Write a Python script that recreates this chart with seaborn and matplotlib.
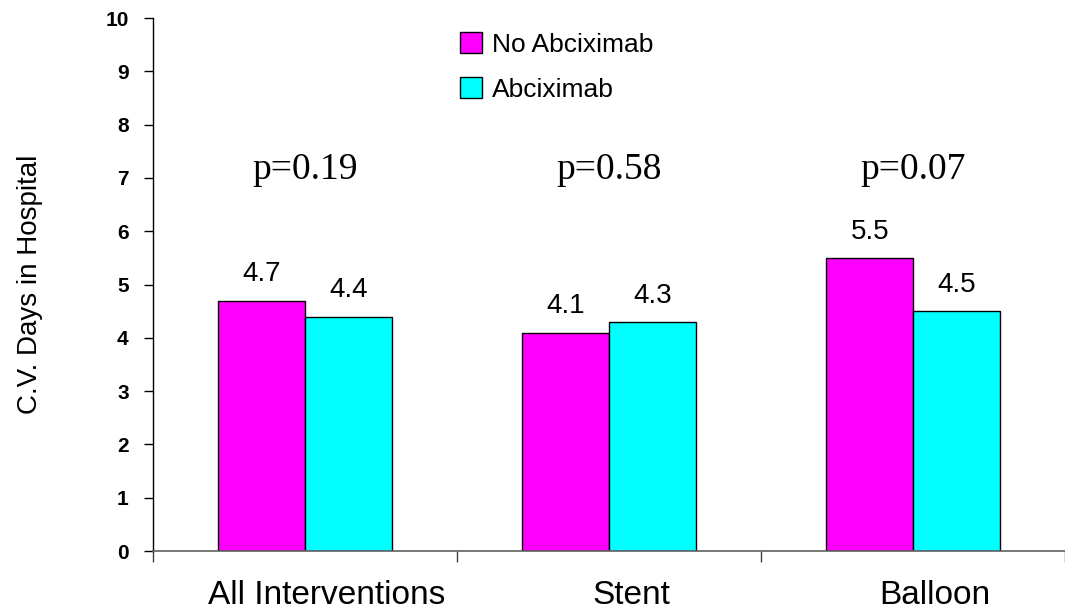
import matplotlib
matplotlib.use("Agg")
import matplotlib.pyplot as plt
import matplotlib.transforms as mtransforms
import seaborn as sns
import pandas as pd

categories = ["All Interventions", "Stent", "Balloon"]
series_names = ["No Abciximab", "Abciximab"]
no_abciximab = [4.7, 4.1, 5.5]
abciximab = [4.4, 4.3, 4.5]
p_values = ["p=0.19", "p=0.58", "p=0.07"]
y_ticks = list(range(0, 11))

df = pd.DataFrame({
    "Category": categories * 2,
    "Group": [series_names[0]] * 3 + [series_names[1]] * 3,
    "Days": no_abciximab + abciximab,
})

sns.set_style("white")
plt.rcParams["font.family"] = ["Liberation Sans", "DejaVu Sans"]
plt.rcParams["text.color"] = "black"
plt.rcParams["axes.labelcolor"] = "black"
plt.rcParams["xtick.color"] = "black"
plt.rcParams["ytick.color"] = "black"

fig = plt.figure(figsize=(10.65, 6.15), dpi=100)
ax = fig.add_axes([0.1437, 0.104, 0.8563, 0.8667])

sns.barplot(data=df, x="Category", y="Days", hue="Group",
            palette=["#FF00FF", "#00FFFF"], edgecolor="black", linewidth=1.0,
            width=0.57, ax=ax, legend=True, saturation=1)

ax.set_xlim(-0.5, 2.5)
ax.set_ylim(0, 10)
ax.set_yticks(y_ticks)
ax.set_yticklabels([str(t) for t in y_ticks], fontsize=15, fontweight="bold")

# category labels sit between the boundary ticks, nudged a little right
ax.set_xticks([0, 1, 2])
ax.set_xticklabels(categories, fontsize=24)
ax.tick_params(axis="x", which="major", length=0, pad=21, bottom=True)
shift = mtransforms.ScaledTranslation(22 / 100, 0, fig.dpi_scale_trans)
for lbl in ax.get_xticklabels():
    lbl.set_transform(lbl.get_transform() + shift)
ax.set_xticks([-0.5, 0.5, 1.5, 2.5], minor=True)
ax.tick_params(axis="x", which="minor", length=8, width=1, direction="out",
               color="#404040", bottom=True)
ax.tick_params(axis="y", length=6.5, width=1, direction="out", left=True,
               color="black", pad=11)

for s in ["top", "right"]:
    ax.spines[s].set_visible(False)
ax.spines["left"].set_color("black")
ax.spines["bottom"].set_color("#606060")
ax.spines["left"].set_linewidth(1)
ax.spines["bottom"].set_linewidth(1.2)

ax.set_xlabel("")
ax.set_ylabel("C.V. Days in Hospital", fontsize=20, labelpad=45)

# value labels above bars
for cont in ax.containers:
    for bar in cont:
        h = bar.get_height()
        ax.text(bar.get_x() + bar.get_width() / 2, h + 0.25, f"{h:.1f}",
                ha="center", va="bottom", fontsize=20)

# p-values
for i, p in enumerate(p_values):
    ax.text(i, 7.15, p, ha="center", va="center", fontsize=27,
            family=["Liberation Serif", "DejaVu Serif"])

leg = ax.legend(loc="upper left", bbox_to_anchor=(0.337, 0.973), frameon=False,
                fontsize=19, handlelength=0.83, handleheight=0.83,
                handletextpad=0.35, labelspacing=0.77, borderaxespad=0,
                borderpad=0)

fig.savefig("out.png", dpi=100)
